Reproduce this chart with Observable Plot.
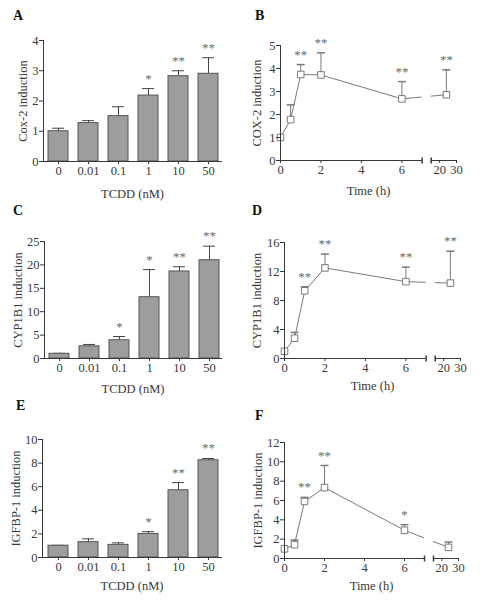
<!DOCTYPE html>
<html><head><meta charset="utf-8">
<script src="https://cdn.jsdelivr.net/npm/d3@7"></script>
<script src="https://cdn.jsdelivr.net/npm/@observablehq/plot@0.6"></script>
<style>
body{margin:0;background:#fff;}
#fig{position:relative;width:480px;height:600px;overflow:hidden;font-family:"Liberation Serif","Times New Roman",serif;}
.panel{position:absolute;}
.panel svg{overflow:visible;font-family:"Liberation Serif","Times New Roman",serif !important;}
.panel svg text{font-family:"Liberation Serif","Times New Roman",serif !important;font-weight:normal !important;}
.letter{position:absolute;font-weight:bold;font-size:14px;line-height:14px;color:#111;}
</style></head><body><div id="fig"></div>
<script>
// ---- data ----
const doses = ["0", "0.01", "0.1", "1", "10", "50"];
const times = [0, 0.5, 1, 2, 6, 24];
const timeTicks = [0, 2, 4, 6, 20, 30];

const coxDose = [1.0, 1.27, 1.5, 2.18, 2.82, 2.9];
const coxDoseErr = [0.1, 0.08, 0.31, 0.23, 0.18, 0.53];
const coxDoseStars = ["", "", "", "*", "**", "**"];

const cypDose = [1.0, 2.6, 3.9, 13.1, 18.6, 21.0];
const cypDoseErr = [0.1, 0.4, 0.8, 5.9, 1.0, 3.0];
const cypDoseStars = ["", "", "*", "*", "**", "**"];

const igfDose = [1.0, 1.3, 1.07, 2.0, 5.7, 8.24];
const igfDoseErr = [0.03, 0.28, 0.17, 0.19, 0.65, 0.15];
const igfDoseStars = ["", "", "", "*", "**", "**"];

const coxTime = [1.0, 1.78, 3.74, 3.72, 2.68, 2.86];
const coxTimeErr = [0, 0.64, 0.43, 0.96, 0.75, 1.08];
const coxTimeStars = ["", "", "**", "**", "**", "**"];

const cypTime = [1.0, 2.8, 9.34, 12.5, 10.6, 10.4];
const cypTimeErr = [0, 0.8, 0.55, 1.9, 2.0, 4.4];
const cypTimeStars = ["", "", "**", "**", "**", "**"];

const igfTime = [1.0, 1.43, 5.9, 7.33, 2.92, 1.15];
const igfTimeErr = [0, 0.48, 0.42, 2.29, 0.58, 0.55];
const igfTimeStars = ["", "", "**", "**", "*", ""];

// ---- broken time axis configuration ----
const axisBreak = {end1: 7, start2: 15, u2: 7.45, end2: 30, u3: 8.7};
function toU(t) {
  return t <= axisBreak.end1 ? t
    : axisBreak.u2 + (t - axisBreak.start2) * (axisBreak.u3 - axisBreak.u2) / (axisBreak.end2 - axisBreak.start2);
}

const FONT = '"Liberation Serif","Times New Roman",serif';
const INK = "#383838";
const BARFILL = "#9d9d9d";
const LINE = "#7a7a7a";
const STAR = "#6a6a6a";

const hbar = {draw(ctx, size) { const r = Math.sqrt(size / Math.PI); ctx.moveTo(-r, 0); ctx.lineTo(r, 0); }};
const vbar = {draw(ctx, size) { const r = Math.sqrt(size / Math.PI); ctx.moveTo(0, -r); ctx.lineTo(0, r); }};
const fmt = d => String(d);

function barPanel(c) {
  const data = doses.map((d, i) => ({dose: d, v: c.values[i], top: c.values[i] + c.errs[i], star: c.stars[i]}));
  return Plot.plot({
    width: 240, height: 200,
    marginLeft: c.ml, marginRight: 19, marginTop: c.mt, marginBottom: c.mb,
    style: {fontFamily: FONT, fontSize: "12.5px", color: INK, background: "transparent"},
    x: {domain: doses, paddingInner: 0.32, paddingOuter: 0.1, align: 0.7},
    y: {domain: [0, c.yMax]},
    marks: [
      Plot.ruleX(data, {x: "dose", y1: "v", y2: "top", stroke: "#444"}),
      Plot.tickY(data, {x: "dose", y: "top", stroke: "#444", inset: 4}),
      Plot.barY(data, {x: "dose", y: "v", fill: BARFILL, stroke: "#555", strokeWidth: 1}),
      Plot.text(data, {x: "dose", y: "top", text: "star", lineAnchor: "bottom", dy: -6, fill: STAR, fontSize: 13}),
      Plot.axisX({tickSize: 3, tickPadding: 2, fontSize: 12.5, label: "TCDD (nM)", labelAnchor: "center", labelOffset: c.xlo, labelArrow: "none"}),
      Plot.axisY({ticks: c.yTicks, tickFormat: fmt, tickSize: 4, tickPadding: 1, fontSize: 12.5, label: c.ylabel, labelAnchor: "center", labelOffset: c.ylo, labelArrow: "none"}),
      Plot.frame({anchor: "left", stroke: INK}),
      Plot.frame({anchor: "bottom", stroke: INK})
    ]
  });
}

function timePanel(c) {
  const data = times.map((t, i) => ({u: toU(t), v: c.values[i], e: c.errs[i], top: c.values[i] + c.errs[i], star: c.stars[i]}));
  const segs = [[0, axisBreak.end1], [axisBreak.u2, axisBreak.u3]];
  const ends = [axisBreak.end1, axisBreak.u2];
  return Plot.plot({
    width: 240, height: 200,
    marginLeft: c.ml, marginRight: c.mr, marginTop: c.mt, marginBottom: c.mb,
    style: {fontFamily: FONT, fontSize: "12.5px", color: INK, background: "transparent"},
    x: {domain: [0, axisBreak.u3]},
    y: {domain: [0, c.yMax]},
    marks: [
      Plot.line(data, {x: "u", y: "v", stroke: LINE, strokeWidth: 1}),
      Plot.rect([axisBreak], {x1: "end1", x2: "u2", fill: "white"}),
      Plot.ruleX(data.filter(d => d.e > 0), {x: "u", y1: "v", y2: "top", stroke: LINE}),
      Plot.dot(data.filter(d => d.e > 0), {x: "u", y: "top", symbol: hbar, r: 4, stroke: LINE}),
      Plot.dot(data, {x: "u", y: "v", symbol: "square", r: 3.7, fill: "white", stroke: LINE, strokeWidth: 1}),
      Plot.text(data, {x: "u", y: "top", text: "star", lineAnchor: "bottom", dy: -6, fill: STAR, fontSize: 13}),
      Plot.ruleY(segs, {x1: d => d[0], x2: d => d[1], y: () => 0, stroke: INK}),
      Plot.dot(ends, {x: d => d, y: () => 0, symbol: vbar, r: 3, stroke: INK}),
      Plot.axisX({ticks: timeTicks.map(toU), tickFormat: (d, i) => String(timeTicks[i]), tickSize: 3, tickPadding: 2, fontSize: 12.5,
        label: "Time (h)", labelAnchor: "center", labelOffset: c.xlo, labelArrow: "none"}),
      Plot.axisY({ticks: c.yTicks, tickFormat: fmt, tickSize: 4, tickPadding: 1, fontSize: 12.5, label: c.ylabel, labelAnchor: "center", labelOffset: c.ylo, labelArrow: "none"}),
      Plot.frame({anchor: "left", stroke: INK})
    ]
  });
}

const fig = document.getElementById("fig");
function place(node, left, top, letter, lx, ly) {
  const div = document.createElement("div");
  div.className = "panel";
  div.style.left = left + "px"; div.style.top = top + "px";
  div.appendChild(node);
  fig.appendChild(div);
  const l = document.createElement("div");
  l.className = "letter"; l.textContent = letter;
  l.style.left = lx + "px"; l.style.top = ly + "px";
  fig.appendChild(l);
}

place(barPanel({values: coxDose, errs: coxDoseErr, stars: coxDoseStars, yMax: 4, yTicks: [0, 1, 2, 3, 4],
  ylabel: "Cox-2 induction", ml: 43, mt: 40, mb: 39, xlo: 36, ylo: 25}), 0, 0, "A", 13, 9);
place(timePanel({values: coxTime, errs: coxTimeErr, stars: coxTimeStars, yMax: 5, yTicks: [0, 1, 2, 3, 4, 5],
  ylabel: "COX-2 induction", ml: 40, mr: 24, mt: 45, mb: 40, xlo: 34, ylo: 28}), 240, 0, "B", 255, 9);
place(barPanel({values: cypDose, errs: cypDoseErr, stars: cypDoseStars, yMax: 25, yTicks: [0, 5, 10, 15, 20, 25],
  ylabel: "CYP1B1 induction", ml: 44, mt: 41, mb: 42, xlo: 34, ylo: 31}), 0, 200, "C", 13, 204);
place(timePanel({values: cypTime, errs: cypTimeErr, stars: cypTimeStars, yMax: 16, yTicks: [0, 4, 8, 12, 16],
  ylabel: "CYP1B1 induction", ml: 44, mr: 20, mt: 42, mb: 42, xlo: 31, ylo: 32}), 240, 200, "D", 252, 204);
place(barPanel({values: igfDose, errs: igfDoseErr, stars: igfDoseStars, yMax: 10, yTicks: [0, 2, 4, 6, 8, 10],
  ylabel: "IGFBP-1 induction", ml: 42, mt: 39, mb: 43, xlo: 32, ylo: 31}), 0, 400, "E", 16, 399);
place(timePanel({values: igfTime, errs: igfTimeErr, stars: igfTimeStars, yMax: 12, yTicks: [0, 2, 4, 6, 8, 10, 12],
  ylabel: "IGFBP-1 induction", ml: 44, mr: 22, mt: 42, mb: 42, xlo: 31, ylo: 31}), 240, 400, "F", 255, 409);
</script></body></html>
